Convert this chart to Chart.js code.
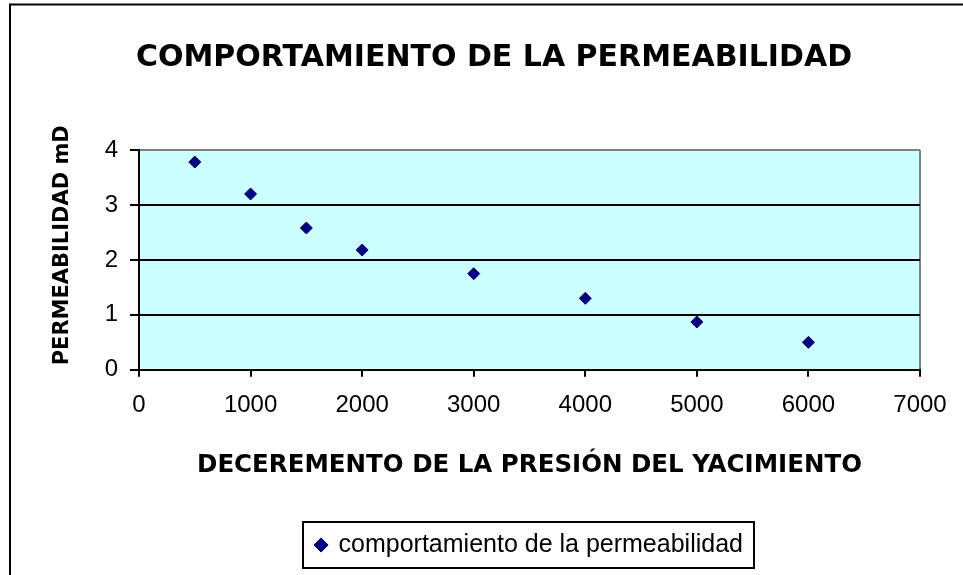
<!DOCTYPE html>
<html>
<head>
<meta charset="utf-8">
<script src="https://cdn.jsdelivr.net/npm/chart.js@4/dist/chart.umd.min.js"></script>
<style>
  html, body { margin: 0; padding: 0; background: #ffffff; }
  canvas { display: block; }
</style>
</head>
<body>
<canvas id="c" width="963" height="575"></canvas>
<script>
// ---- data ----
const pressure = [500, 1000, 1500, 2000, 3000, 4000, 5000, 6000];
const permeability = [3.78, 3.20, 2.58, 2.18, 1.75, 1.30, 0.87, 0.50];
const seriesName = 'comportamiento de la permeabilidad';
const chartTitle = 'COMPORTAMIENTO DE LA PERMEABILIDAD';
const xTitle = 'DECEREMENTO DE LA PRESIÓN DEL YACIMIENTO';
const yTitle = 'PERMEABILIDAD mD';
const xRange = [0, 7000, 1000];
const yRange = [0, 4, 1];

const points = pressure.map((x, i) => ({ x: x, y: permeability[i] }));

const frame = {
  id: 'frame',
  beforeDraw(chart) {
    const ctx = chart.ctx, a = chart.chartArea;
    ctx.save();
    ctx.fillStyle = '#ffffff';
    ctx.fillRect(0, 0, chart.width, chart.height);
    // outer chart border (left & top visible)
    ctx.strokeStyle = '#000000';
    ctx.lineWidth = 2;
    ctx.beginPath();
    ctx.moveTo(10, chart.height + 5);
    ctx.lineTo(10, 4.5);
    ctx.lineTo(chart.width + 5, 4.5);
    ctx.stroke();
    // plot area fill
    ctx.fillStyle = '#CCFFFF';
    ctx.fillRect(a.left, a.top, a.right - a.left, a.bottom - a.top);
    ctx.restore();
  },
  afterDraw(chart) {
    const lg = chart.legend;
    if (!lg || !lg.legendHitBoxes || !lg.legendHitBoxes.length) return;
    const hb = lg.legendHitBoxes[0];
    const ctx = chart.ctx;
    const cy = hb.top + hb.height / 2;
    ctx.save();
    ctx.strokeStyle = '#000000';
    ctx.lineWidth = 2;
    ctx.strokeRect(Math.round(hb.left - 13), Math.round(cy - 23), Math.round(hb.width + 24), 46);
    ctx.restore();
  }
};

new Chart(document.getElementById('c'), {
  type: 'scatter',
  data: {
    datasets: [{
      label: seriesName,
      data: points,
      pointStyle: 'rectRot',
      pointRadius: 6,
      pointHoverRadius: 6,
      borderWidth: 1,
      backgroundColor: '#000080',
      borderColor: '#000080',
      showLine: false
    }]
  },
  options: {
    responsive: false,
    animation: false,
    layout: { padding: { left: 25, right: 0, top: 0, bottom: 7.5 } },
    plugins: {
      tooltip: { enabled: false },
      title: {
        display: true,
        text: chartTitle,
        color: '#000000',
        font: { family: 'DejaVu Sans', size: 30, weight: 'bold' },
        padding: { top: 40, bottom: 74 }
      },
      legend: {
        display: true,
        position: 'bottom',
        fullSize: false,
        labels: {
          usePointStyle: true,
          boxWidth: 10,
          boxHeight: 10,
          padding: 10,
          color: '#000000',
          font: { family: 'Liberation Sans', size: 25 }
        }
      }
    },
    scales: {
      x: {
        type: 'linear',
        min: xRange[0], max: xRange[1],
        afterFit(scale) { scale.paddingRight = 43; },
        ticks: {
          stepSize: xRange[2],
          padding: 14.1,
          color: '#000000',
          maxRotation: 0,
          callback: (v) => String(v),
          font: { family: 'Liberation Sans', size: 24 }
        },
        grid: {
          drawOnChartArea: true,
          color: (c) => (c.tick && c.tick.value === xRange[1]) ? '#808080' : 'rgba(0,0,0,0)',
          tickColor: '#000000',
          lineWidth: 2,
          tickLength: 7
        },
        border: { display: true, color: '#000000', width: 2 },
        title: {
          display: true,
          text: xTitle,
          color: '#000000',
          font: { family: 'DejaVu Sans', size: 24.5, weight: 'bold' },
          padding: { top: 17.3, bottom: 42 }
        }
      },
      y: {
        type: 'linear',
        min: yRange[0], max: yRange[1],
        afterFit(scale) { scale.width = 114; },
        ticks: {
          stepSize: yRange[2],
          padding: 12,
          color: '#000000',
          callback: (v) => String(v),
          font: { family: 'Liberation Sans', size: 24 }
        },
        grid: {
          color: (c) => (c.tick && c.tick.value === yRange[1]) ? '#808080' : '#000000',
          tickColor: '#000000',
          lineWidth: 2,
          tickLength: 9
        },
        border: { display: true, color: '#000000', width: 2 },
        title: {
          display: true,
          text: '    ' + yTitle,
          color: '#000000',
          font: { family: 'DejaVu Sans', size: 21, weight: 'bold' },
          padding: { top: 25, bottom: 0 }
        }
      }
    }
  },
  plugins: [frame]
});
</script>
</body>
</html>
